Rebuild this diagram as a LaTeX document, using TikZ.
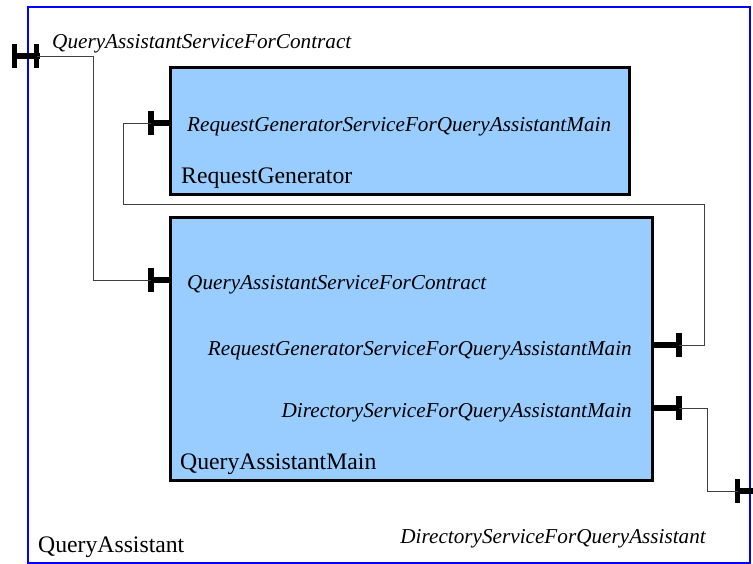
\documentclass[tikz,border=0pt]{standalone}
\usepackage{fontspec}
\setmainfont{Liberation Serif}
\usepackage{xcolor}
\usepackage{tikz}
\usetikzlibrary{calc, positioning}
\definecolor{boxblue}{RGB}{153, 204, 255}
\definecolor{frameblue}{RGB}{0, 0, 255}

\begin{document}
\begin{tikzpicture}[x=1pt, y=-1pt,
        comp/.style={draw=black, line width=2.5pt, fill=boxblue, inner sep=0pt, anchor=north west},
        frame/.style={draw=frameblue, line width=2pt, inner sep=0pt, anchor=north west},
        portbar/.style={line width=5.5pt, line cap=butt},
        wire/.style={draw=black!75, line width=1pt},
        lbl/.style={font=\fontsize{21.2}{24}\selectfont\itshape, inner sep=0pt},
        title/.style={font=\fontsize{23.7}{27}\selectfont, inner sep=0pt}]
        \useasboundingbox (0,0) rectangle (753,563);

        % Outer component and its parts
        \node[frame, minimum width=722pt, minimum height=556pt] (qa) at (26.5,5.5) {};
        \node[comp, minimum width=459pt, minimum height=127pt] (rg) at (169,66) {};
        \node[comp, minimum width=482pt, minimum height=263pt] (qam) at (169,216) {};

        % Names
        \node[title, anchor=base west] (qaName) at (38,552) {QueryAssistant};
        \node[title, anchor=base west] (rgName) at (181,183) {RequestGenerator};
        \node[title, anchor=base west] (qamName) at (180,469) {QueryAssistantMain};

        % Port labels
        \node[lbl, anchor=base west] (qaContract) at (52,48) {QueryAssistantServiceForContract};
        \node[lbl, anchor=base east] (qaDirectory) at (706,543) {DirectoryServiceForQueryAssistant};
        \node[lbl, anchor=base west] (rgService) at (187,131) {RequestGeneratorServiceForQueryAssistantMain};
        \node[lbl, anchor=base west] (qamContract) at (187,289) {QueryAssistantServiceForContract};
        \node[lbl, anchor=base east] (qamRequest) at (632,355) {RequestGeneratorServiceForQueryAssistantMain};
        \node[lbl, anchor=base east] (qamDirectory) at (632,417) {DirectoryServiceForQueryAssistantMain};

        % Ports
        \coordinate (qaContractPort) at (25.5,56);
        \coordinate (qaDirectoryPort) at (748.5,491);
        \coordinate (rgServicePort) at (151,123);
        \coordinate (qamContractPort) at (151,280);
        \coordinate (qamRequestPort) at (679,345);
        \coordinate (qamDirectoryPort) at (679,408);

        % Outer ports (H shape on the frame)
        \draw[portbar] ([xshift=-14pt]qaContractPort) -- ([xshift=14pt]qaContractPort);
        \draw[portbar] ([xshift=-11pt, yshift=12pt]qaContractPort) -- ([xshift=-11pt, yshift=-12pt]qaContractPort);
        \draw[portbar] ([xshift=11pt, yshift=12pt]qaContractPort) -- ([xshift=11pt, yshift=-12pt]qaContractPort);
        \draw[portbar] ([xshift=-14pt]qaDirectoryPort) -- ([xshift=14pt]qaDirectoryPort);
        \draw[portbar] ([xshift=-11pt, yshift=12pt]qaDirectoryPort) -- ([xshift=-11pt, yshift=-12pt]qaDirectoryPort);
        \draw[portbar] ([xshift=11pt, yshift=12pt]qaDirectoryPort) -- ([xshift=11pt, yshift=-12pt]qaDirectoryPort);

        % Inner ports (T shape on the boxes)
        \draw[portbar] ([xshift=-2.75pt]rgServicePort) -- (rg.west |- rgServicePort);
        \draw[portbar] ([yshift=12pt]rgServicePort) -- ([yshift=-12pt]rgServicePort);
        \draw[portbar] ([xshift=-2.75pt]qamContractPort) -- (qam.west |- qamContractPort);
        \draw[portbar] ([yshift=12pt]qamContractPort) -- ([yshift=-12pt]qamContractPort);
        \draw[portbar] ([xshift=2.75pt]qamRequestPort) -- (qam.east |- qamRequestPort);
        \draw[portbar] ([yshift=12pt]qamRequestPort) -- ([yshift=-12pt]qamRequestPort);
        \draw[portbar] ([xshift=2.75pt]qamDirectoryPort) -- (qam.east |- qamDirectoryPort);
        \draw[portbar] ([yshift=12pt]qamDirectoryPort) -- ([yshift=-12pt]qamDirectoryPort);

        % Wires
        \coordinate (rgLoop) at (704,204);
        \draw[wire] ([xshift=11pt]qaContractPort) -| ([xshift=-58pt]qamContractPort) -- (qamContractPort);
        \draw[wire] (rgServicePort) -| ([xshift=-28pt]rgServicePort |- rgLoop) -- (rgLoop) |- (qamRequestPort);
        \draw[wire] (qamDirectoryPort) -| ([xshift=-41.5pt]qaDirectoryPort) -- ([xshift=-11pt]qaDirectoryPort);
    \end{tikzpicture}
\end{document}
